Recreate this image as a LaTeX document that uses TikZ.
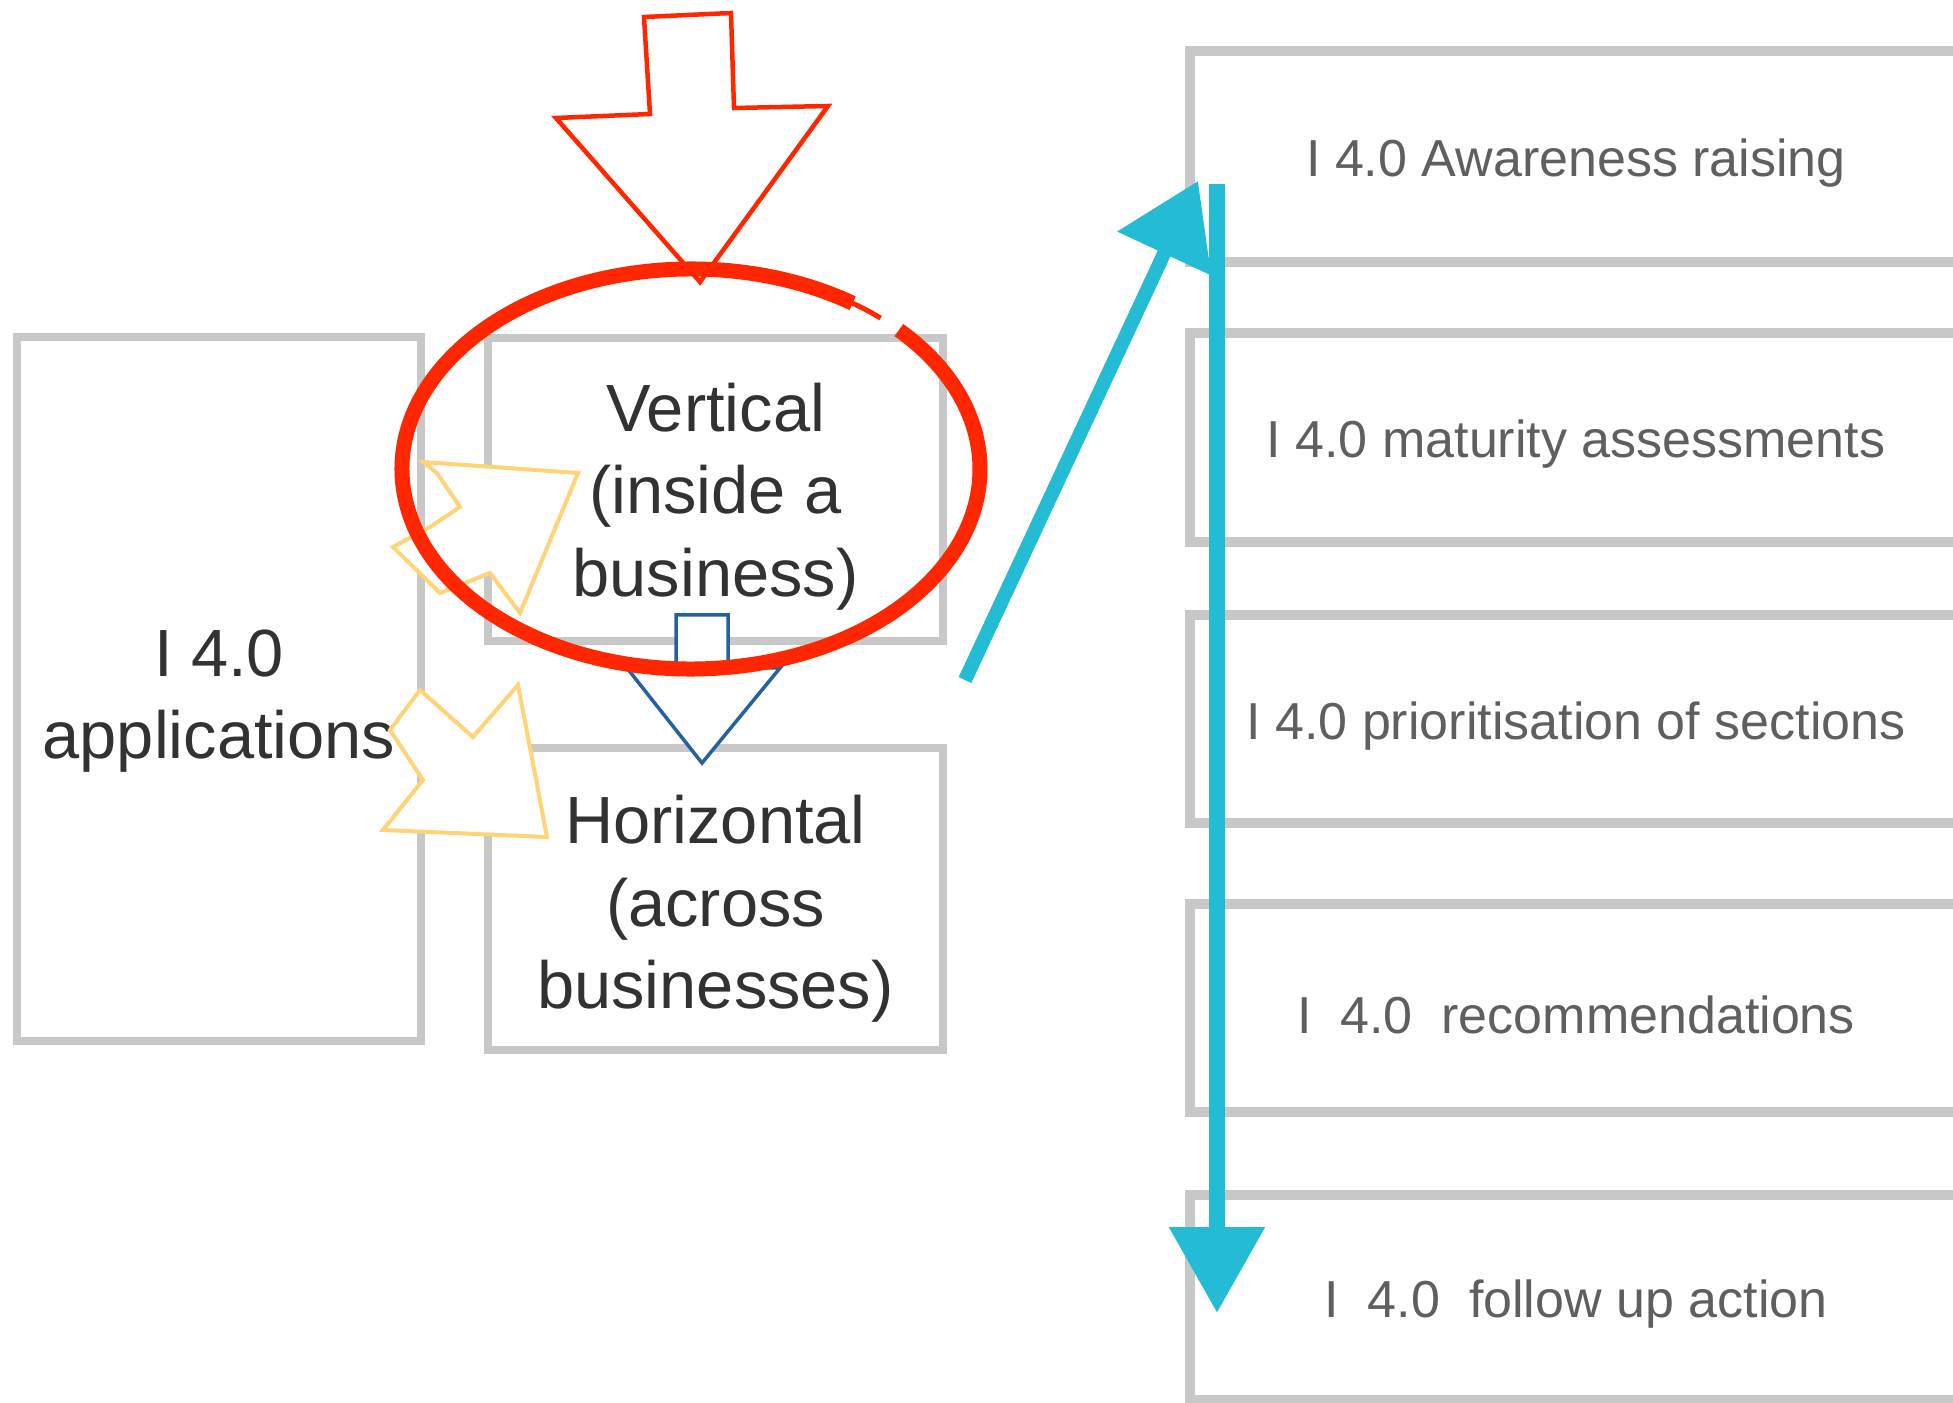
\documentclass[tikz,border=0pt]{standalone}
\usepackage{fontspec}
\setmainfont{Liberation Sans}
\usetikzlibrary{arrows.meta}
\definecolor{boxgray}{RGB}{200,200,200}
\definecolor{ink}{RGB}{50,50,50}
\definecolor{stepink}{RGB}{95,95,95}
\definecolor{alert}{RGB}{255,38,0}
\definecolor{flowc}{RGB}{36,188,212}
\definecolor{bluec}{RGB}{37,96,160}
\definecolor{amber}{RGB}{255,212,120}
\tikzset{
  box/.style={draw=boxgray, line width=0.8mm, fill=white, inner sep=0pt},
  lbl/.style={font=\fontsize{19}{23.5}\selectfont, text=ink, align=center},
  stepbox/.style={draw=boxgray, line width=1mm, fill=white, inner sep=0pt, minimum width=7.72cm},
  steplbl/.style={font=\fontsize{14.8}{18}\selectfont, text=stepink, yshift=-0.7mm},
  flow/.style={draw=flowc, -{Triangle[length=8.6mm, width=9.2mm]}},
  notch/.style={draw=amber, line width=0.4mm, fill=white, line join=miter},
  ring/.style={draw=alert, line width=1.5mm},
}

\begin{document}
\begin{tikzpicture}
  \useasboundingbox (0,-14.03) rectangle (19.53,0);
  \clip (0,-14.03) rectangle (19.53,0);
  % left group
  \node[box, minimum width=4.04cm, minimum height=7.04cm,
    label={[lbl, yshift=-1.2mm]center:I 4.0\\applications}] (apps) at (2.19,-6.89) {};
  \node[box, minimum width=4.55cm, minimum height=3.03cm,
    label={[lbl, yshift=-0.7mm]center:Vertical\\(inside a\\business)}] (vert) at (7.155,-4.895) {};
  \node[box, minimum width=4.55cm, minimum height=3.02cm,
    label={[lbl, yshift=-1.0mm]center:Horizontal\\(across\\businesses)}] (horiz) at (7.155,-8.99) {};
  % steps on the right
  \node[stepbox, minimum height=2.11cm, label={[steplbl]center:I 4.0 Awareness raising}] (aware) at (15.76,-1.565) {};
  \node[stepbox, minimum height=2.09cm, label={[steplbl]center:I 4.0 maturity assessments}] (matur) at (15.76,-4.375) {};
  \node[stepbox, minimum height=2.08cm, label={[steplbl]center:I 4.0 prioritisation of sections}] (prior) at (15.76,-7.19) {};
  \node[stepbox, minimum height=2.08cm, label={[steplbl]center:I~~4.0~~recommendations}] (recom) at (15.76,-10.08) {};
  \node[stepbox, minimum height=2.05cm, label={[steplbl]center:I~~4.0~~follow up action}] (follow) at (15.76,-12.97) {};
  % block arrow vertical -> horizontal
  \draw[bluec, line width=0.35mm, fill=white, line join=miter]
    (6.76,-6.15) -- (7.28,-6.15) -- (7.28,-6.68) -- (7.80,-6.68) -- (7.02,-7.63)
    -- (6.27,-6.68) -- (6.76,-6.68) -- cycle;
  % notched arrows
  \draw[notch] (4.23,-4.62) -- (5.78,-4.73) -- (5.20,-6.13) -- (4.90,-5.73) -- (4.40,-5.93)
    -- (3.93,-5.47) -- (4.30,-5.27) -- (4.60,-5.07) -- (4.37,-4.73) -- cycle;
  \draw[notch] (4.20,-6.90) -- (4.73,-7.37) -- (5.18,-6.85) -- (5.47,-8.37) -- (3.83,-8.30)
    -- (4.23,-7.80) -- (3.90,-7.30) -- cycle;
  % red ring and arrow
  \coordinate (ringc) at (6.91,-4.69);
  \draw[ring] (ringc) ++(56:2.89cm and 2.00cm) arc[start angle=56, end angle=404, x radius=2.89cm, y radius=2.00cm];
  \draw[ring, line width=0.5mm] (ringc) ++(49:2.89cm and 2.00cm) arc[start angle=49, end angle=56, x radius=2.89cm, y radius=2.00cm];
  \draw[alert, line width=0.45mm, line join=miter]
    (6.44,-0.17) -- (7.31,-0.13) -- (7.34,-1.08) -- (8.28,-1.06) -- (7.00,-2.82)
    -- (5.56,-1.18) -- (6.50,-1.14) -- cycle;
  % cyan flow
  \coordinate (src) at (9.65,-6.80);
  \coordinate (hit) at (11.98,-1.81);
  \coordinate (top) at (12.17,-1.84);
  \coordinate (end) at (12.17,-13.13);
  \draw[flow, line width=1.4mm, -{Triangle[length=8mm, width=10mm]}] (src) -- (hit);
  \draw[flow, line width=1.6mm] (top) -- (end);
\end{tikzpicture}
\end{document}
